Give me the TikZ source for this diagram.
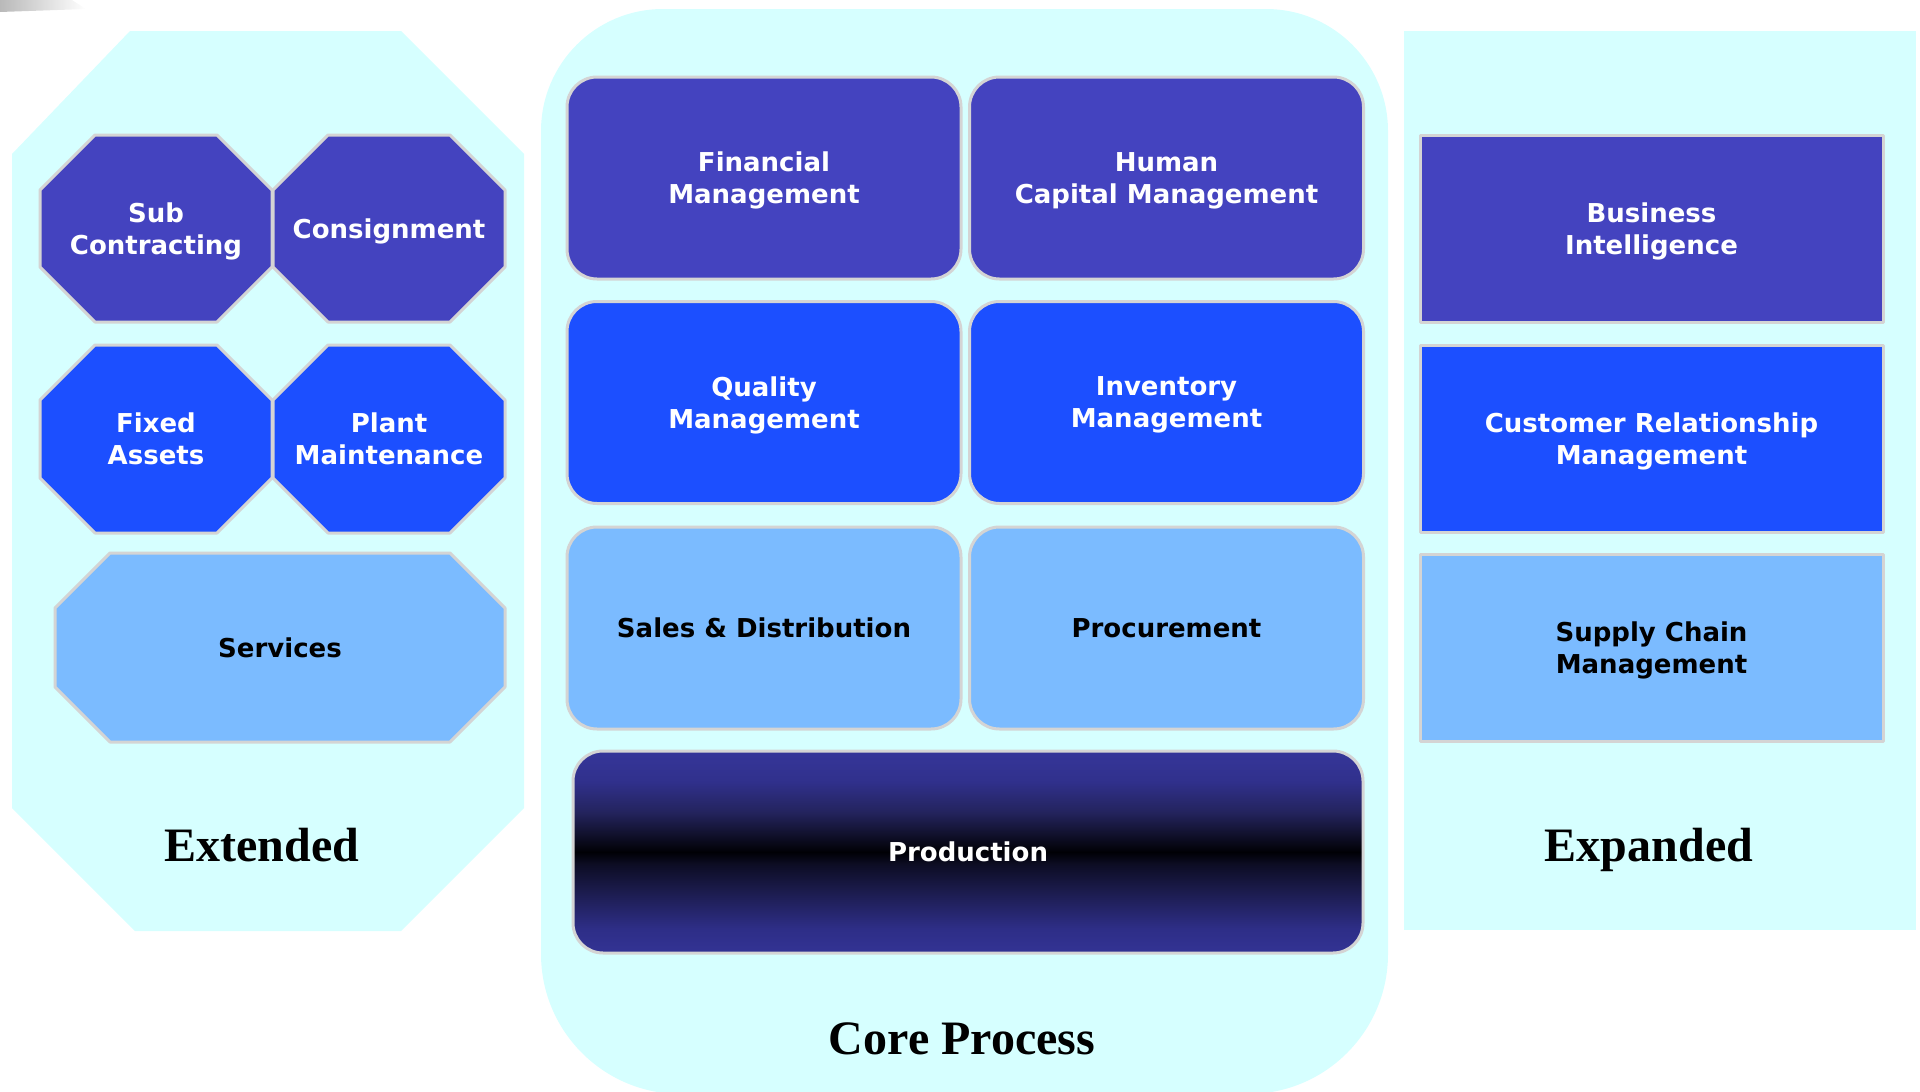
\documentclass[tikz,border=0pt]{standalone}
\usepackage{fontspec}
\newfontfamily\boxfont{DejaVu Sans}
\newfontfamily\capfont{Liberation Serif}
\definecolor{panelcyan}{RGB}{214,255,255}
\definecolor{deepblue}{RGB}{68,67,191}
\definecolor{brightblue}{RGB}{28,79,255}
\definecolor{lightblue}{RGB}{123,187,255}
\definecolor{rimgray}{RGB}{212,212,212}
% dark band of the production box
\pgfdeclareverticalshading{prodshade}{100bp}{rgb(0bp)=(0.20,0.20,0.58); rgb(25bp)=(0.20,0.20,0.58); rgb(31bp)=(0.18,0.18,0.53); rgb(40bp)=(0.11,0.11,0.31); rgb(47bp)=(0.05,0.05,0.14); rgb(50bp)=(0,0,0.02); rgb(54bp)=(0.06,0.06,0.16); rgb(60bp)=(0.14,0.14,0.37); rgb(67.5bp)=(0.19,0.19,0.55); rgb(75bp)=(0.21,0.21,0.60); rgb(100bp)=(0.21,0.21,0.60)}
% octagon: x1, y1, x2, y2, cut
\newcommand{\octpath}[5]{(#1+#5,#2)--(#3-#5,#2)--(#3,#2+#5)--(#3,#4-#5)--(#3-#5,#4)--(#1+#5,#4)--(#1,#4-#5)--(#1,#2+#5)--cycle}
\begin{document}
\begin{tikzpicture}[x=1pt, y=-1pt, line join=round, font=\boxfont\bfseries\fontsize{26}{32}\selectfont,
	every node/.style={text depth=0pt},
	rim/.style={draw=rimgray, line width=3pt},
	card/.style={rim, rounded corners=30pt, minimum width=394pt, minimum height=202pt, align=center, inner sep=0pt},
	tile/.style={rim, minimum width=463pt, minimum height=187pt, align=center, inner sep=0pt},
	caption/.style={font=\capfont\bfseries\fontsize{48}{56}\selectfont, anchor=base}]
	\def\cut{55} % chamfer of the small octagons
	\useasboundingbox (0,0) rectangle (1920,1092);
	\shade[left color=gray!55, right color=white] (0,0) -- (72,0) -- (86,9) -- (0,12) -- cycle;
	% panels
	\fill[panelcyan] (12,154) -- (130,31) -- (401,31) -- (524,154) -- (524,808) -- (401,931) -- (135,931) -- (12,808) -- cycle;
	\fill[panelcyan] (541,600) [rounded corners=122pt] -- (541,9) -- (1388,9) -- (1388,600) [rounded corners=140pt] -- (1388,1094) -- (541,1094) -- cycle;
	\fill[panelcyan] (1404,31) rectangle (1916,930);
	% Extended
	\filldraw[rim, fill=deepblue] \octpath{40}{135}{272}{322}{\cut};
	\filldraw[rim, fill=deepblue] \octpath{273}{135}{505}{322}{\cut};
	\filldraw[rim, fill=brightblue] \octpath{40}{345}{272}{533}{\cut};
	\filldraw[rim, fill=brightblue] \octpath{273}{345}{505}{533}{\cut};
	\filldraw[rim, fill=lightblue] \octpath{55}{553}{505}{742}{\cut};
	\node[text=white, align=center] (subc) at (156,228.5) {Sub\\Contracting};
	\node[text=white, align=center] (consign) at (389,228.5) {Consignment};
	\node[text=white, align=center] (fixed) at (156,439) {Fixed\\Assets};
	\node[text=white, align=center] (plant) at (389,439) {Plant\\Maintenance};
	\node[text=black, align=center] (serv) at (280,647.5) {Services};
	\node[caption] (ext) at (262,861) {Extended};
	% Core Process
	\node[card, fill=deepblue, text=white] (fin) at (764,178) {Financial\\Management};
	\node[card, fill=deepblue, text=white] (hcm) at (1166.5,178) {Human\\Capital Management};
	\node[card, fill=brightblue, text=white] (qual) at (764,402.5) {Quality\\Management};
	\node[card, fill=brightblue, text=white] (inv) at (1166.5,402.5) {Inventory\\Management};
	\node[card, fill=lightblue, text=black] (sales) at (764,628) {Sales \& Distribution};
	\node[card, fill=lightblue, text=black] (proc) at (1166.5,628) {Procurement};
	\node[card, shading=prodshade, minimum width=790pt, text=white] (prod) at (968,852) {Production};
	\node[caption] (core) at (962,1054) {Core Process};
	% Expanded
	\node[tile, fill=deepblue, text=white] (bi) at (1651.5,228.5) {Business\\Intelligence};
	\node[tile, fill=brightblue, text=white] (crm) at (1651.5,439) {Customer Relationship\\Management};
	\node[tile, fill=lightblue, text=black] (scm) at (1651.5,647.5) {Supply Chain\\Management};
	\node[caption] (exp) at (1649,861) {Expanded};
\end{tikzpicture}
\end{document}
